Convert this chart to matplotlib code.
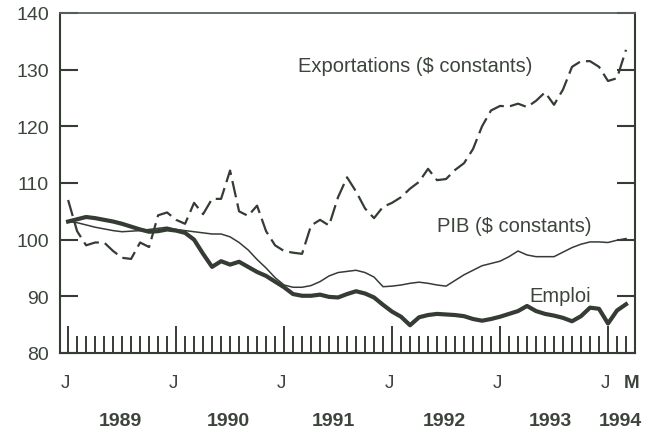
import numpy as np
import matplotlib
matplotlib.use("Agg")
import matplotlib.pyplot as plt
from matplotlib.transforms import blended_transform_factory

# Monthly index values, January 1989 to March 1994
months = np.arange(63)  # 0 = Jan 1989 ... 62 = Mar 1994

exportations = [
    107.0, 101.5, 99.0, 99.5, 99.5, 98.0, 96.8, 96.6, 99.5, 98.7,
    104.3, 104.8, 103.5, 102.8, 106.5, 104.5, 107.2, 107.2, 112.2, 105.0,
    104.2, 106.0, 101.5, 99.0, 98.0, 97.7, 97.5, 102.5, 103.5, 102.5,
    107.5, 111.0, 108.5, 105.5, 103.8, 105.8, 106.5, 107.5, 109.0, 110.2,
    112.5, 110.5, 110.7, 112.3, 113.5, 116.0, 120.0, 122.8, 123.6, 123.5,
    124.0, 123.4, 124.5, 126.0, 123.8, 126.5, 130.5, 131.5, 131.5, 130.5,
    128.0, 128.5, 133.5,
]

pib = [
    103.2, 103.0, 102.6, 102.2, 101.9, 101.6, 101.4, 101.5, 101.6, 101.8,
    102.0, 102.2, 101.8, 101.6, 101.4, 101.2, 101.0, 101.0, 100.5, 99.5,
    98.2, 96.5, 95.0, 93.3, 92.0, 91.6, 91.6, 91.9, 92.6, 93.6,
    94.2, 94.4, 94.6, 94.2, 93.4, 91.7, 91.8, 92.0, 92.3, 92.5,
    92.3, 92.0, 91.8, 92.8, 93.8, 94.6, 95.4, 95.8, 96.2, 97.0,
    98.0, 97.3, 97.0, 97.0, 97.0, 97.8, 98.6, 99.2, 99.6, 99.6,
    99.5, 99.9, 100.2,
]

emploi = [
    103.2, 103.6, 104.0, 103.8, 103.5, 103.2, 102.8, 102.3, 101.8, 101.4,
    101.5, 101.8, 101.6, 101.2, 100.0, 97.5, 95.2, 96.2, 95.6, 96.1,
    95.2, 94.3, 93.6, 92.6, 91.6, 90.4, 90.1, 90.1, 90.3, 89.9,
    89.8, 90.4, 90.9, 90.5, 89.8, 88.5, 87.3, 86.4, 84.9, 86.3,
    86.7, 86.9, 86.8, 86.7, 86.5, 86.0, 85.7, 86.0, 86.4, 86.9,
    87.4, 88.3, 87.4, 86.9, 86.6, 86.2, 85.6, 86.5, 88.0, 87.8,
    85.2, 87.5, 88.6,
]

y_ticks = [80, 90, 100, 110, 120, 130, 140]
month_tick_pos = [0, 12, 24, 36, 48, 60, 62]
month_tick_labels = ["J", "J", "J", "J", "J", "J", "M"]
year_pos = [5.8, 17.8, 29.5, 41.8, 53.6, 61.4]
year_labels = ["1989", "1990", "1991", "1992", "1993", "1994"]

ink = "#343c34"
text_ink = "#3c443c"
plt.rcParams["font.family"] = ["Liberation Sans", "DejaVu Sans"]

W, H = 647, 435
fig = plt.figure(figsize=(W / 100, H / 100), dpi=100)
fig.patch.set_facecolor("white")
ax = fig.add_axes([60 / W, (H - 354) / H, (635 - 60) / W, (354 - 14) / H])

ax.plot(months, exportations, color=ink, lw=1.6, linestyle=(0, (7.5, 2.8)),
        dash_capstyle="butt")
ax.plot(months, pib, color=ink, lw=1.1)
ax.plot(months, emploi, color=ink, lw=3.0, solid_joinstyle="round")

ax.set_xlim(-0.9, 63.0)
ax.set_ylim(80, 140)

for s in ax.spines.values():
    s.set_color(ink)
    s.set_linewidth(1.5)
ax.spines["top"].set_color("#5a625a")
ax.spines["top"].set_linewidth(1.3)

# y axis: inward ticks both sides, labels on the left
ax.set_yticks(y_ticks)
ax.set_yticklabels([str(v) for v in y_ticks], fontsize=14, color=text_ink)
ax.tick_params(axis="y", direction="in", length=13, width=1.5, color=ink,
               left=True, right=True, pad=8)

# x axis: monthly ticks, taller each January
ax.set_xticks([m for m in months if m % 12 == 0])
ax.set_xticks([m for m in months if m % 12 != 0], minor=True)
ax.set_xticklabels([])
ax.tick_params(axis="x", which="major", direction="in", length=19.5, width=1.4, color=ink)
ax.tick_params(axis="x", which="minor", direction="in", length=12.5, width=1.4, color=ink)

trans = blended_transform_factory(ax.transData, fig.transFigure)
for p, lab in zip(month_tick_pos, month_tick_labels):
    ax.text(p - 0.3 if lab == "J" else p + 0.6, (H - 384) / H, lab, transform=trans,
            ha="center", va="center", fontsize=13.5, color=text_ink,
            fontweight="bold" if lab == "M" else "normal")
for p, lab in zip(year_pos, year_labels):
    ax.text(p, (H - 422) / H, lab, transform=trans, ha="center", va="center",
            fontsize=14, fontweight="bold", color=text_ink)

# Series labels
ax.text(25.6, 130.7, "Exportations ($ constants)", fontsize=14.5, color=text_ink,
        ha="left", va="center")
ax.text(41.0, 102.5, "PIB ($ constants)", fontsize=14.5, color=text_ink,
        ha="left", va="center")
ax.text(51.3, 90.1, "Emploi", fontsize=14.5, color=text_ink, ha="left", va="center")

fig.savefig("out.png", dpi=100, facecolor="white")
